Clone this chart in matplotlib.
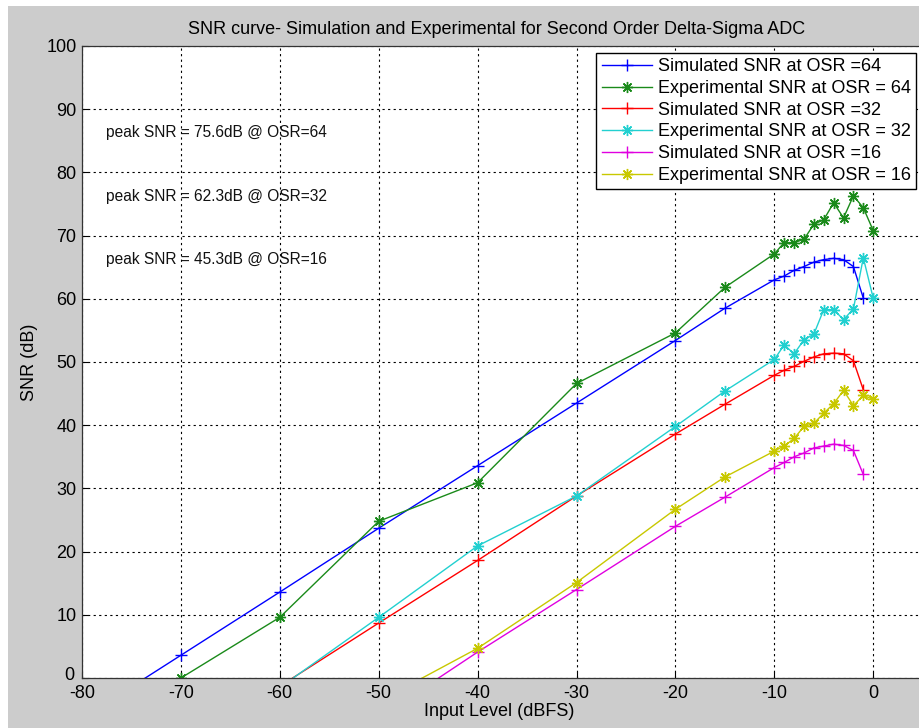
import matplotlib
matplotlib.use("Agg")
import matplotlib.pyplot as plt
import matplotlib.transforms as mtransforms
from matplotlib.patches import Rectangle

plt.rcParams['font.family'] = ['Liberation Sans', 'DejaVu Sans']
plt.rcParams['axes.unicode_minus'] = False

# Input levels (dBFS)
x_sim = [-80, -70, -60, -50, -40, -30, -20, -15, -10, -9, -8, -7, -6, -5, -4, -3, -2, -1]
x_exp = [-80, -70, -60, -50, -40, -30, -20, -15, -10, -9, -8, -7, -6, -5, -4, -3, -2, -1, 0]
x_sim32 = [-60, -50, -40, -30, -20, -15, -10, -9, -8, -7, -6, -5, -4, -3, -2, -1]
x_exp32 = [-60, -50, -40, -30, -20, -15, -10, -9, -8, -7, -6, -5, -4, -3, -2, -1, 0]
x_sim16 = [-50, -40, -30, -20, -15, -10, -9, -8, -7, -6, -5, -4, -3, -2, -1]
x_exp16 = [-50, -40, -30, -20, -15, -10, -9, -8, -7, -6, -5, -4, -3, -2, -1, 0]

# SNR values (dB)
sim64 = [-6.4, 3.6, 13.6, 23.7, 33.6, 43.5, 53.4, 58.5, 63.0, 63.6, 64.5, 65.1, 65.8, 66.2, 66.4, 66.2, 65.1, 60.1]
exp64 = [-9.0, 0.0, 9.6, 24.8, 30.9, 46.6, 54.6, 61.8, 67.1, 68.9, 68.9, 69.4, 71.8, 72.5, 75.2, 72.8, 76.3, 74.4, 70.8]
sim32 = [-1.3, 8.7, 18.6, 28.8, 38.6, 43.3, 47.9, 48.7, 49.3, 50.1, 50.8, 51.3, 51.4, 51.3, 50.2, 45.6]
exp32 = [-1.5, 9.6, 20.9, 28.8, 39.8, 45.4, 50.4, 52.7, 51.3, 53.5, 54.4, 58.3, 58.3, 56.7, 58.4, 66.5, 60.1]
sim16 = [-6.3, 4.1, 14.0, 24.0, 28.6, 33.3, 34.1, 35.0, 35.6, 36.4, 36.7, 37.0, 36.8, 36.0, 32.2]
exp16 = [-3.7, 4.7, 15.1, 26.7, 31.8, 35.9, 36.7, 37.9, 39.8, 40.3, 41.9, 43.4, 45.5, 43.1, 44.7, 44.1]

labels = ["Simulated SNR at OSR =64", "Experimental SNR at OSR = 64",
          "Simulated SNR at OSR =32", "Experimental SNR at OSR = 32",
          "Simulated SNR at OSR =16", "Experimental SNR at OSR = 16"]
peak_notes = ["peak SNR = 75.6dB @ OSR=64", "peak SNR = 62.3dB @ OSR=32",
              "peak SNR = 45.3dB @ OSR=16"]
note_y = [86.3, 76.2, 66.2]

xticks = [-80, -70, -60, -50, -40, -30, -20, -10, 0]
yticks = [0, 10, 20, 30, 40, 50, 60, 70, 80, 90, 100]

W, H = 920, 728
fig = plt.figure(figsize=(W / 100, H / 100), dpi=100, facecolor='white')
fig.patches.append(Rectangle((8 / W, 0), 1, 1 - 6 / H, transform=fig.transFigure,
                             facecolor='#cccccc', edgecolor='none', zorder=-10))

left, bottom, top = 82, 678, 46
px_per_unit = 9.89
right = left + 90 * px_per_unit
ax = fig.add_axes([left / W, (H - bottom) / H, (right - left) / W, (bottom - top) / H])
ax.set_facecolor('white')

asterisk = (8, 2, 0)
series = [
    (x_sim, sim64, '#0000ff', '+'),
    (x_exp, exp64, '#1a8a1a', asterisk),
    (x_sim32, sim32, '#ff0000', '+'),
    (x_exp32, exp32, '#22d0d0', asterisk),
    (x_sim16, sim16, '#e000e0', '+'),
    (x_exp16, exp16, '#c8c800', asterisk),
]
for (xs, ys, c, m), lab in zip(series, labels):
    ax.plot(xs, ys, color=c, marker=m, markersize=8, markeredgewidth=1.0,
            linewidth=1.0, label=lab)

ax.set_xlim(-80, 10)
ax.set_ylim(0, 100)
ax.set_xticks(xticks)
ax.set_yticks(yticks)
ax.tick_params(direction='in', length=4, width=0.8, labelsize=13, colors='black')
ax.tick_params(axis='x', pad=5)
ax.tick_params(axis='y', pad=4)
ax.grid(True, color='black', linestyle=(0, (2, 3)), linewidth=0.8)
for s in ax.spines.values():
    s.set_linewidth(0.9)
    s.set_color('#333333')

# nudge the bottom y tick label up a little so it clears the "-80" label
zero_lbl = ax.get_yticklabels()[0]
zero_lbl.set_transform(zero_lbl.get_transform() +
                       mtransforms.ScaledTranslation(-2 / 100, 4 / 100, fig.dpi_scale_trans))

for txt, yv in zip(peak_notes, note_y):
    ax.text(-77.6, yv, txt, fontsize=11.2, va='center', ha='left', color='#111111')

fig.text(497 / W, 1 - 30 / H, "SNR curve- Simulation and Experimental for Second Order Delta-Sigma ADC",
         ha='center', va='center', fontsize=13)
fig.text(499 / W, 1 - 712 / H, "Input Level (dBFS)", ha='center', va='center', fontsize=13)
fig.text(30 / W, 1 - 362 / H, "SNR (dB)", ha='center', va='center', rotation=90, fontsize=13)

leg = ax.legend(loc='upper right', bbox_to_anchor=(916 / W, 1 - 53 / H),
                bbox_transform=fig.transFigure, fontsize=13, fancybox=False,
                framealpha=1, edgecolor='black', handlelength=2.8, handletextpad=0.3,
                labelspacing=0.26, borderpad=0.3, borderaxespad=0)
leg.get_frame().set_linewidth(1.0)

fig.savefig('out.png', dpi=100, facecolor=fig.get_facecolor())
